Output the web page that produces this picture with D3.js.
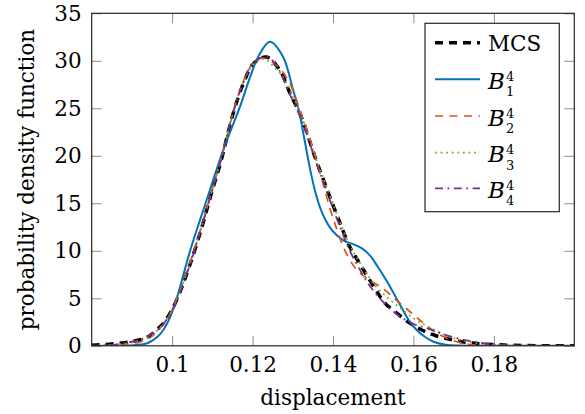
<!DOCTYPE html>
<html>
<head>
<meta charset="utf-8">
<script src="https://cdn.jsdelivr.net/npm/d3@7"></script>
<style>
  html, body { margin: 0; padding: 0; background: #fff; }
  svg { display: block; }
  text { font-family: "DejaVu Serif", "Liberation Serif", serif; fill: #000; }
</style>
</head>
<body>
<div id="chart"></div>
<script>
// ---- data ----
const xTicks = [0.1, 0.12, 0.14, 0.16, 0.18];
const xTickLabels = ["0.1", "0.12", "0.14", "0.16", "0.18"];
const yTicks = [0, 5, 10, 15, 20, 25, 30, 35];
const xLabel = "displacement";
const yLabel = "probability density function";

const mcsX = [0.080, 0.085, 0.090, 0.094, 0.097, 0.099, 0.101, 0.104, 0.1074, 0.110, 0.112, 0.1152, 0.1177, 0.1202, 0.1235, 0.1268, 0.1293, 0.1322, 0.1355, 0.1384, 0.1413, 0.1442, 0.1463, 0.1504, 0.1529, 0.1554, 0.1587, 0.1621, 0.1658, 0.170, 0.1737, 0.1774, 0.185, 0.200];
const mcsY = [0.05, 0.2, 0.45, 0.96, 2.0, 3.1, 4.7, 8.0, 12.5, 16.4, 19.2, 24.5, 27.6, 29.7, 30.4, 29.0, 26.6, 24.0, 19.9, 16.6, 13.4, 10.4, 8.9, 6.05, 4.5, 3.6, 2.5, 1.66, 1.03, 0.6, 0.33, 0.19, 0.05, 0.0];

const b1X = [0.080, 0.088, 0.091, 0.094, 0.0965, 0.098, 0.0995, 0.101, 0.1025, 0.1044, 0.1069, 0.1094, 0.1127, 0.1169, 0.1194, 0.1215, 0.1243, 0.1276, 0.1301, 0.1315, 0.1330, 0.1343, 0.1356, 0.1372, 0.1390, 0.1410, 0.1430, 0.1450, 0.1470, 0.1490, 0.1510, 0.1534, 0.1567, 0.1590, 0.1608, 0.163, 0.165, 0.168, 0.171, 0.175, 0.200];
const b1Y = [0, 0, 0.08, 0.3, 1.0, 1.8, 3.0, 4.8, 7.0, 9.9, 13.2, 16.4, 20.6, 25.2, 28.3, 30.5, 32.0, 30.4, 26.9, 24.8, 21.5, 18.6, 16.2, 14.1, 12.6, 11.6, 11.0, 10.7, 10.3, 9.6, 8.4, 6.8, 4.3, 2.6, 1.66, 0.9, 0.43, 0.12, 0.02, 0, 0];

const b2X = [0.080, 0.088, 0.092, 0.095, 0.099, 0.101, 0.104, 0.1074, 0.110, 0.112, 0.1152, 0.1177, 0.1200, 0.1219, 0.1245, 0.1268, 0.1293, 0.1318, 0.1343, 0.1368, 0.1390, 0.1410, 0.1430, 0.1459, 0.1492, 0.1525, 0.1555, 0.1583, 0.1616, 0.1666, 0.1708, 0.175, 0.180, 0.200];
const b2Y = [0, 0.1, 0.4, 1.0, 3.0, 4.8, 8.2, 12.7, 16.5, 19.4, 24.6, 27.8, 29.7, 30.3, 30.0, 29.2, 27.6, 24.8, 21.7, 18.2, 14.8, 12.2, 10.0, 8.0, 6.9, 6.0, 4.9, 3.9, 2.7, 1.14, 0.43, 0.1, 0, 0];

const b3X = [0.080, 0.086, 0.090, 0.094, 0.097, 0.099, 0.101, 0.104, 0.1074, 0.110, 0.112, 0.1152, 0.1177, 0.1202, 0.1230, 0.1252, 0.1275, 0.1293, 0.1322, 0.1355, 0.1384, 0.1413, 0.1442, 0.1463, 0.1504, 0.1540, 0.1567, 0.1600, 0.1642, 0.170, 0.1774, 0.182, 0.200];
const b3Y = [0, 0.1, 0.35, 0.9, 1.9, 3.0, 4.7, 8.1, 12.6, 16.5, 19.3, 24.6, 27.7, 29.6, 30.2, 29.4, 28.4, 26.8, 24.2, 20.0, 16.8, 13.5, 10.6, 9.0, 6.4, 4.9, 4.0, 2.9, 1.9, 0.8, 0.2, 0.05, 0];

const b4X = [0.080, 0.085, 0.089, 0.093, 0.097, 0.099, 0.101, 0.104, 0.1074, 0.110, 0.112, 0.1152, 0.1177, 0.1202, 0.1237, 0.1265, 0.1290, 0.1322, 0.1355, 0.1384, 0.1413, 0.1442, 0.1463, 0.1490, 0.1525, 0.1560, 0.1600, 0.1630, 0.1662, 0.1708, 0.1760, 0.181, 0.186, 0.200];
const b4Y = [0, 0.1, 0.35, 0.8, 1.9, 3.0, 4.6, 8.0, 12.6, 16.4, 19.3, 24.6, 27.7, 29.8, 30.4, 29.1, 26.7, 23.8, 19.7, 16.3, 13.0, 10.0, 8.3, 6.4, 4.6, 3.3, 2.3, 1.9, 1.4, 0.8, 0.35, 0.1, 0, 0];

const seriesNames = ["MCS", "B1", "B2", "B3", "B4"];
const seriesX = [mcsX, b1X, b2X, b3X, b4X];
const seriesY = [mcsY, b1Y, b2Y, b3Y, b4Y];
const legendSubs = [null, "1", "2", "3", "4"];

// ---- styles ----
const styles = [
  { color: "#000000", width: 3.5, dash: "8,6" },
  { color: "#0072BD", width: 2, dash: null },
  { color: "#D95319", width: 1.7, dash: "8,6.5" },
  { color: "#77AC30", width: 1.8, dash: "1.8,3.8" },
  { color: "#7E2F8E", width: 1.8, dash: "8,4.5,1.8,4.5" }
];

const W = 585, H = 414;
const m = { left: 91.7, right: W - 574.3, top: 13.3, bottom: H - 345.8 };
const pw = W - m.left - m.right, ph = H - m.top - m.bottom;

const svg = d3.select("#chart").append("svg").attr("width", W).attr("height", H);

const x = d3.scaleLinear().domain([0.08, 0.2]).range([m.left, m.left + pw]);
const y = d3.scaleLinear().domain([0, 35]).range([m.top + ph, m.top]);

svg.append("defs").append("clipPath").attr("id", "clip")
  .append("rect").attr("x", m.left).attr("y", m.top).attr("width", pw).attr("height", ph);

const fs = 21.5;
const tickLen = 10;

// axes (ticks inward, mirrored)
const tickStyle = g => {
  g.select(".domain").remove();
  g.selectAll(".tick line").attr("stroke", "#8c8c8c").attr("stroke-width", 1);
  g.selectAll(".tick text").style("font-size", fs + "px").attr("fill", "#000");
};

svg.append("g").attr("transform", `translate(0,${m.top + ph})`)
  .call(d3.axisBottom(x).tickValues(xTicks).tickFormat((d, i) => xTickLabels[i]).tickSizeInner(-tickLen).tickSizeOuter(0).tickPadding(11))
  .call(tickStyle);
svg.append("g").attr("transform", `translate(0,${m.top})`)
  .call(d3.axisTop(x).tickValues(xTicks).tickFormat("").tickSizeInner(-tickLen).tickSizeOuter(0))
  .call(tickStyle);
svg.append("g").attr("transform", `translate(${m.left},0)`)
  .call(d3.axisLeft(y).tickValues(yTicks).tickSizeInner(-tickLen).tickSizeOuter(0).tickPadding(10))
  .call(tickStyle);
svg.append("g").attr("transform", `translate(${m.left + pw},0)`)
  .call(d3.axisRight(y).tickValues(yTicks).tickFormat("").tickSizeInner(-tickLen).tickSizeOuter(0))
  .call(tickStyle);

// curves
const line = d3.line().x(d => x(d[0])).y(d => y(Math.max(0, d[1]))).curve(d3.curveCatmullRom.alpha(0.5));
const plot = svg.append("g").attr("clip-path", "url(#clip)");
seriesNames.forEach((name, i) => {
  const pts = seriesX[i].map((v, j) => [v, seriesY[i][j]]);
  plot.append("path").datum(pts)
    .attr("d", line)
    .attr("fill", "none")
    .attr("stroke", styles[i].color)
    .attr("stroke-width", styles[i].width)
    .attr("stroke-dasharray", styles[i].dash)
    .attr("stroke-linejoin", "round");
});

// frame
svg.append("rect").attr("x", m.left).attr("y", m.top).attr("width", pw).attr("height", ph)
  .attr("fill", "none").attr("stroke", "#262626").attr("stroke-width", 1.2);

// axis labels
svg.append("text").attr("x", m.left + pw / 2).attr("y", 405).attr("text-anchor", "middle")
  .style("font-size", fs + "px").text(xLabel);
svg.append("text").attr("transform", `translate(34,${m.top + ph / 2}) rotate(-90)`).attr("text-anchor", "middle")
  .style("font-size", fs + "px").text(yLabel);

// legend
const lg = svg.append("g");
lg.append("rect").attr("x", 425).attr("y", 23.3).attr("width", 134.3).attr("height", 188.4)
  .attr("fill", "#fff").attr("stroke", "#262626").attr("stroke-width", 1.2);
const rowY = [42.7, 79.3, 116, 152.7, 188.3];
seriesNames.forEach((name, i) => {
  const ry = rowY[i];
  lg.append("line").attr("x1", 435).attr("x2", 480).attr("y1", ry).attr("y2", ry)
    .attr("stroke", styles[i].color).attr("stroke-width", styles[i].width)
    .attr("stroke-dasharray", styles[i].dash);
  if (i === 0) {
    lg.append("text").attr("x", 488).attr("y", ry + 8.5).style("font-size", fs + "px").text(name);
  } else {
    lg.append("text").attr("x", 488).attr("y", ry + 9.5).style("font-size", "23px")
      .style("font-style", "italic").text("B");
    lg.append("text").attr("x", 506).attr("y", ry + 1.5).style("font-size", "13px").text("4");
    lg.append("text").attr("x", 506).attr("y", ry + 17).style("font-size", "13px").text(legendSubs[i]);
  }
});
</script>
</body>
</html>
